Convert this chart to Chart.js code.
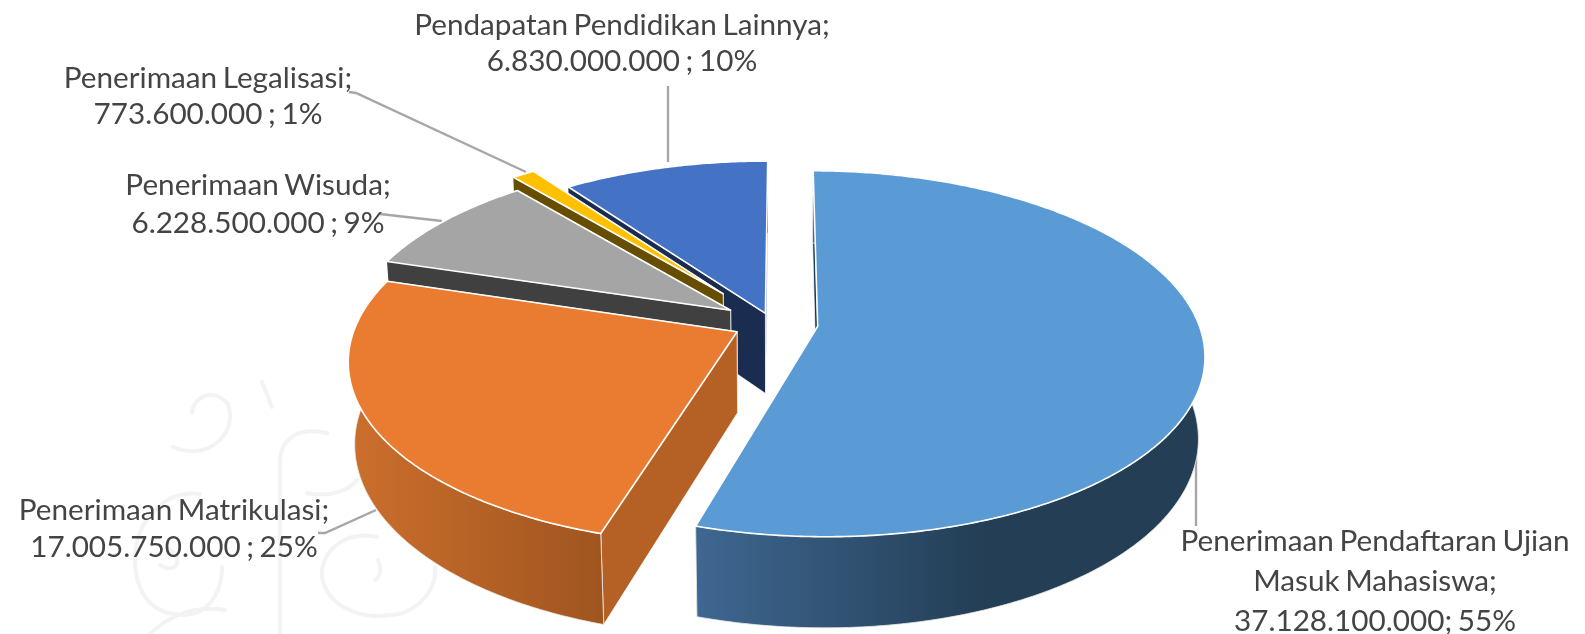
<!DOCTYPE html>
<html><head><meta charset="utf-8">
<style>html,body{margin:0;padding:0;background:#fff}canvas{display:block}</style>
<script src="https://cdn.jsdelivr.net/npm/chart.js@4"></script>
</head><body>
<canvas id="c" width="1585" height="634"></canvas>
<script>
const categories = ['Penerimaan Pendaftaran Ujian Masuk Mahasiswa','Penerimaan Matrikulasi','Penerimaan Wisuda','Penerimaan Legalisasi','Pendapatan Pendidikan Lainnya'];
const values = [37128100000,17005750000,6228500000,773600000,6830000000];
const sliceOffsets = [34,29,37,60,16];
const topColors = ['#5b9bd5','#ea7c31','#a5a5a5','#ffc000','#4472c4'];
const edgeColors = ['#1f3a55','#b56024','#404040','#664d00','#1a2d50'];
const wallLeft = ['#3f6791','#cc6f2d','#404040','#664d00','#1a2d50'];
const wallRight = ['#233e55','#a0551f','#404040','#664d00','#1a2d50'];
const labelLines = [
  ['Penerimaan Pendaftaran Ujian','Masuk Mahasiswa;','37.128.100.000; 55%'],
  ['Penerimaan Matrikulasi;','17.005.750.000 ; 25%'],
  ['Penerimaan Wisuda;','6.228.500.000 ; 9%'],
  ['Penerimaan Legalisasi;','773.600.000 ; 1%'],
  ['Pendapatan Pendidikan Lainnya;','6.830.000.000 ; 10%']
];
const labelAnchors = [[1375,541,40],[174,510,37],[258,185,38],[208,78,36],[622,25,36]];
const leaders = [
  [[1196,432],[1196,526]],
  [[318,533],[325,533],[376,510]],
  [[380,214],[442,221]],
  [[349,92],[356,93],[526,172]],
  [[668,86],[668,162]]
];
const swirls = [
  'M192 413 C193 397 213 387 227 403 C240 430 210 463 173 447',
  'M262 382 L272 407',
  'M280 634 L280 463 C280 437 300 427 327 433',
  'M307 493 C330 498 350 490 357 480',
  'M200 494 C165 490 135 520 135 560 C135 590 150 612 175 614 C205 620 222 595 222 567',
  'M377 537 C343 530 320 553 322 577 C327 607 363 623 403 613 C427 603 437 583 435 567',
  'M378 560 C382 570 380 577 375 580',
  'M170 550 C185 560 175 575 160 565',
  'M150 634 C170 615 195 605 225 610'
];
const view = {rx:1.355, ry:0.633, k:0.15, depth:0.291, m:0.015};

function slicePainter(chart){
  const ctx = chart.ctx;
  const meta = chart.getDatasetMeta(0);
  const project = (el,u,v,z) => {
    const w = 1 - view.k*v + view.m*z, R = el.outerRadius;
    return [el.x + R*view.rx*u/w, el.y + R*(view.ry*v + view.depth*z)/w];
  };
  const rim = (el,off,a,z) => {
    const mid = (el.startAngle+el.endAngle)/2;
    return project(el, off*Math.cos(mid)+Math.cos(a), off*Math.sin(mid)+Math.sin(a), z);
  };
  const apex = (el,off,z) => {
    const mid = (el.startAngle+el.endAngle)/2;
    return project(el, off*Math.cos(mid), off*Math.sin(mid), z);
  };
  const poly = (pts) => {
    ctx.beginPath();
    pts.forEach((p,i)=> i?ctx.lineTo(p[0],p[1]):ctx.moveTo(p[0],p[1]));
    ctx.closePath();
  };
  for (let i = meta.data.length-1; i>=0; i--){
    const el = meta.data[i];
    const off = el.options.offset/el.outerRadius;
    const n = Math.max(4, Math.ceil((el.endAngle-el.startAngle)/0.01));
    const angs = []; for(let s=0;s<=n;s++) angs.push(el.startAngle+(el.endAngle-el.startAngle)*s/n);
    [el.endAngle, el.startAngle].forEach(a=>{
      poly([apex(el,off,0),rim(el,off,a,0),rim(el,off,a,1),apex(el,off,1)]);
      ctx.fillStyle = edgeColors[i]; ctx.fill();
      ctx.strokeStyle='rgba(255,255,255,.75)'; ctx.lineWidth=1; ctx.stroke();
    });
    const topPts = angs.map(a=>rim(el,off,a,0));
    const botPts = angs.map(a=>rim(el,off,a,1));
    const xs = topPts.map(p=>p[0]);
    const minX = Math.min(...xs), maxX = i===0 ? minX+290 : Math.max(...xs);
    const g = ctx.createLinearGradient(minX,0,maxX,0);
    g.addColorStop(0,wallLeft[i]); g.addColorStop(1,wallRight[i]);
    poly(topPts.concat(botPts.slice().reverse()));
    ctx.fillStyle = g; ctx.fill();
    if (i<2){ ctx.strokeStyle='rgba(235,235,235,.8)'; ctx.lineWidth=1; ctx.stroke(); }
    poly([apex(el,off,0)].concat(topPts));
    ctx.fillStyle = topColors[i]; ctx.fill();
    ctx.strokeStyle='#fff'; ctx.lineWidth=1.6; ctx.lineJoin='round'; ctx.stroke();
  }
}
const pie3d = {
  id:'pie3d',
  beforeDatasetsDraw(chart){
    const ctx = chart.ctx;
    ctx.save();
    ctx.strokeStyle='#f3f3f3'; ctx.lineWidth=4; ctx.lineCap='round';
    swirls.forEach(d=>ctx.stroke(new Path2D(d)));
    ctx.lineCap='butt';
    ctx.strokeStyle='#a6a6a6'; ctx.lineWidth=2.4;
    leaders.forEach(l=>{ctx.beginPath();l.forEach((p,i)=>i?ctx.lineTo(p[0],p[1]):ctx.moveTo(p[0],p[1]));ctx.stroke();});
    slicePainter(chart);
    ctx.fillStyle='#444'; ctx.textAlign='center'; ctx.textBaseline='middle';
    ctx.font='29.7px Lato';
    ctx.wordSpacing='-2px';
    labelLines.forEach((lines,i)=>{
      const [x,y,h]=labelAnchors[i];
      lines.forEach((t,j)=>ctx.fillText(t,x,y+j*h));
    });
    ctx.restore();
    return false;
  }
};
new Chart(document.getElementById('c'),{
  type:'pie',
  data:{labels:categories,datasets:[{data:values,backgroundColor:topColors,offset:sliceOffsets,borderWidth:0}]},
  options:{
    responsive:false,animation:false,rotation:0.25,
    layout:{padding:{left:0,right:41,top:12,bottom:0}},
    plugins:{legend:{display:false},tooltip:{enabled:false}}
  },
  plugins:[pie3d]
});
</script>
</body></html>
